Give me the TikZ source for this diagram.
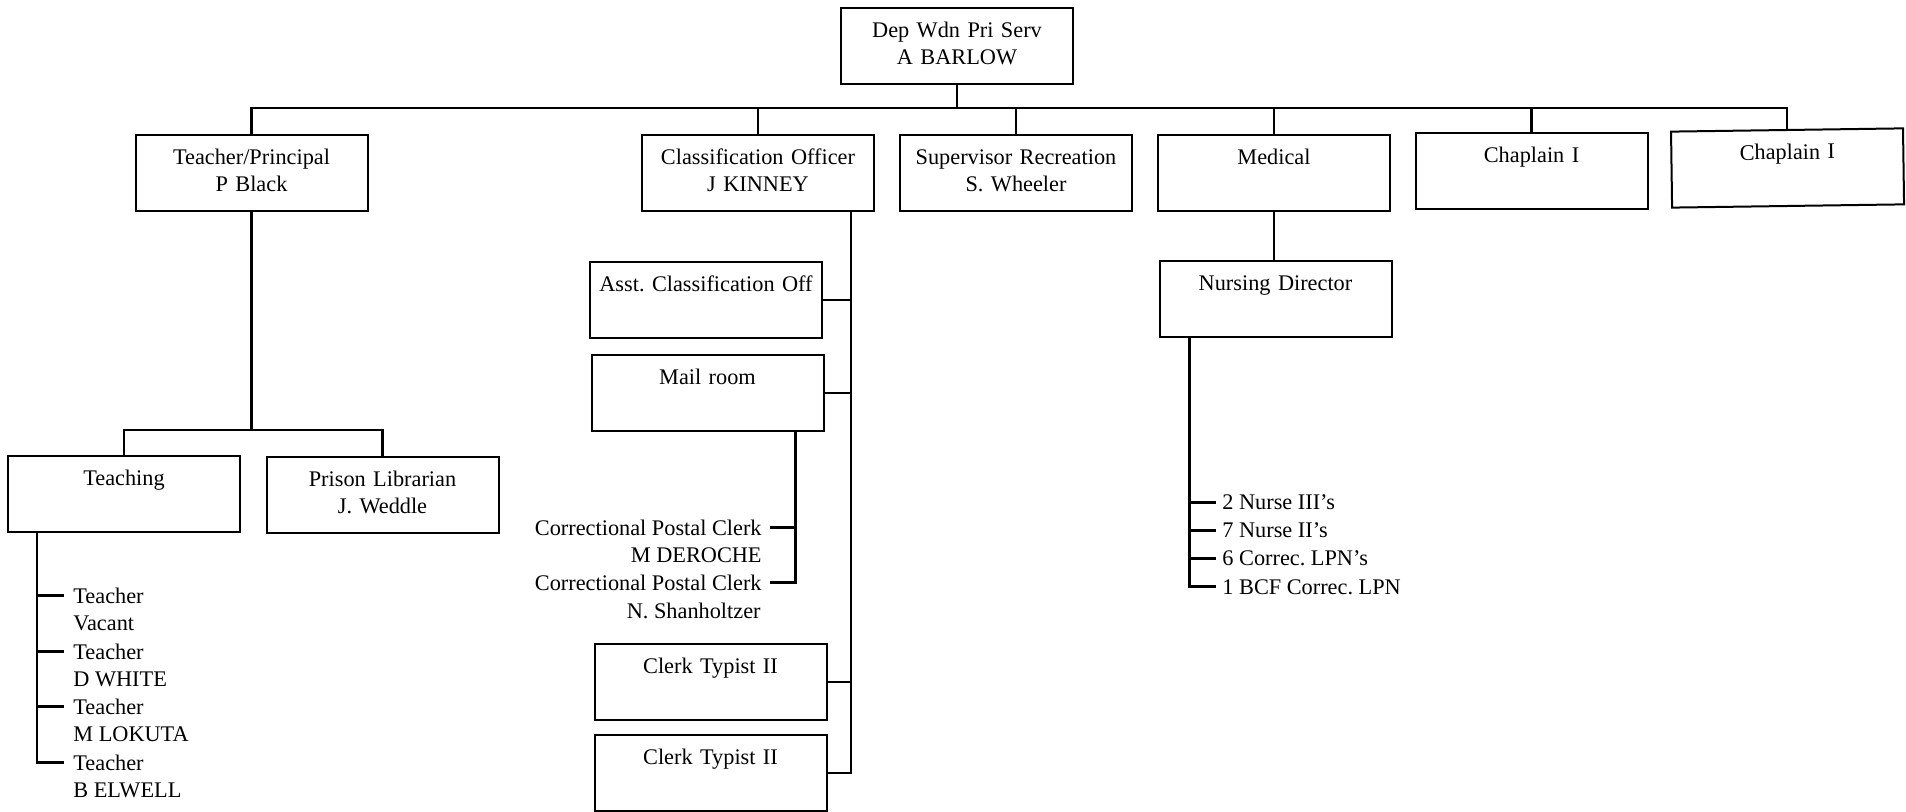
\documentclass[tikz,border=0pt]{standalone}
\usepackage{fontspec}
\setmainfont{Liberation Serif}
\usetikzlibrary{calc}
\frenchspacing
\newcommand{\orgfont}{\fontsize{11.15pt}{13.5pt}\selectfont}
\begin{document}
\begin{tikzpicture}[x=0.5pt,y=-0.5pt,
  orgbox/.style={draw, line width=1pt, rectangle, inner sep=0pt, anchor=north,
    minimum width=116pt, minimum height=38pt, text width=116pt, align=center,
    text height=14.75pt, text depth=23.25pt, font=\orgfont},
  conn/.style={line width=1.4pt},
  itemw/.style={inner sep=0pt, anchor=base west, font=\orgfont},
  iteme/.style={inner sep=0pt, anchor=base east, font=\orgfont}]

\fill[white] (0,0) rectangle (1906,812);
\useasboundingbox (0,0) rectangle (1906,812);

% top of the chart
\node[orgbox] (root) at (957,7) {Dep Wdn Pri Serv\\A BARLOW};

% first level
\node[orgbox] (tp)  at (251.5,134) {Teacher/Principal\\P Black};
\node[orgbox] (co)  at (758,134)   {Classification Officer\\J KINNEY};
\node[orgbox] (sr)  at (1016,134)  {Supervisor Recreation\\S. Wheeler};
\node[orgbox] (med) at (1274,134)  {Medical};
\node[orgbox] (ch1) at (1531.5,132) {Chaplain I};
\node[orgbox, rotate=0.8] (ch2) at (1787,129) {Chaplain I};

\coordinate (bus) at (957,108);
\foreach \c in {tp,co,sr,med,ch1,ch2}
  \draw[conn] (root.south) -- (bus) -| (\c.north);

% education
\node[orgbox] (teaching) at (124,455)  {Teaching};
\node[orgbox] (lib)      at (382.5,456) {Prison Librarian\\J. Weddle};
\coordinate (lvl2) at (0,430);
\coordinate (tpbus) at (tp.south |- lvl2);
\draw[conn] (tp.south) -- (tpbus) -| (teaching.north);
\draw[conn] (tpbus) -| (lib.north);

\node[itemw] (t1)  at (73,603.5) {Teacher};
\node[itemw] (t1n) at (73,630.5) {Vacant};
\node[itemw] (t2)  at (73,659.5) {Teacher};
\node[itemw] (t2n) at (73,686)   {D WHITE};
\node[itemw] (t3)  at (73,714.5) {Teacher};
\node[itemw] (t3n) at (73,741.5) {M LOKUTA};
\node[itemw] (t4)  at (73,770.5) {Teacher};
\node[itemw] (t4n) at (73,797)   {B ELWELL};
\coordinate (tv) at ($(teaching.south west)+(30,0)$);
\draw[conn] (tv) |- ([xshift=-4.5pt]t4.west);
\foreach \t in {t1,t2,t3}
  \draw[conn] (tv |- \t.west) -- ([xshift=-4.5pt]\t.west);

% classification
\node[orgbox] (asst)   at (706,261)   {Asst. Classification Off};
\node[orgbox] (mail)   at (707.5,354) {Mail room};
\node[orgbox] (clerk1) at (710.5,643) {Clerk Typist II};
\node[orgbox] (clerk2) at (710.5,734) {Clerk Typist II};
\coordinate (cv) at ($(co.south east)+(-24,0)$);
\draw[conn] (cv) |- (clerk2.east);
\foreach \b in {asst,mail,clerk1}
  \draw[conn] (\b.east) -- (\b.east -| cv);

\node[iteme] (pc1)  at (762,535.5) {Correctional Postal Clerk};
\node[iteme] (pc1n) at (762,562)   {M DEROCHE};
\node[iteme] (pc2)  at (762,590.5) {Correctional Postal Clerk};
\node[iteme] (pc2n) at (761,618.5) {N. Shanholtzer};
\coordinate (mv) at ($(mail.south east)+(-29,0)$);
\draw[conn] (mv) |- ([xshift=4pt]pc2.east);
\draw[conn] (mv |- pc1.east) -- ([xshift=4pt]pc1.east);

% medical
\node[orgbox] (nurse) at (1275.5,260) {Nursing Director};
\draw[conn] (med.south) -- (med.south |- nurse.north);
\node[itemw] (n1) at (1222,509.5) {2 Nurse III's};
\node[itemw] (n2) at (1222,537.5) {7 Nurse II's};
\node[itemw] (n3) at (1222,565.5) {6 Correc. LPN's};
\node[itemw] (n4) at (1222,594)   {1 BCF Correc. LPN};
\coordinate (nv) at ($(nurse.south west)+(31,0)$);
\draw[conn] (nv) |- ([xshift=-3pt]n4.west);
\foreach \n in {n1,n2,n3}
  \draw[conn] (nv |- \n.west) -- ([xshift=-3pt]\n.west);

\end{tikzpicture}
\end{document}
